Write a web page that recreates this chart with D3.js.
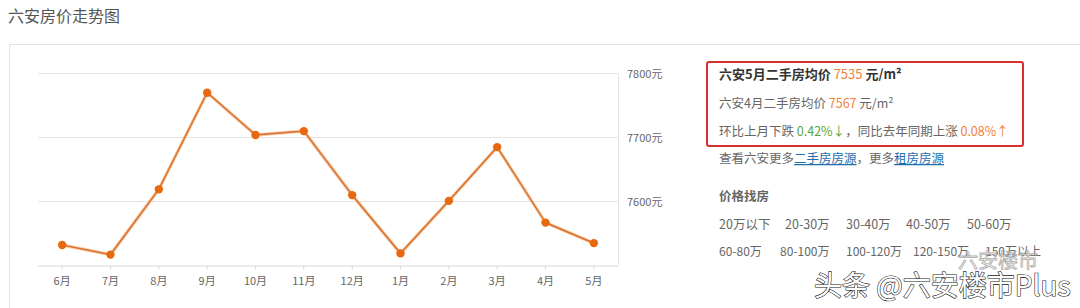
<!DOCTYPE html>
<html>
<head>
<meta charset="utf-8">
<script src="https://cdn.jsdelivr.net/npm/d3@7"></script>
<style>
  body { margin: 0; background: #fff; }
  svg { display: block; font-family: "Noto Sans CJK SC", "Noto Sans", sans-serif; }
</style>
</head>
<body>
<script>
// 六安二手房均价 (元/m²)
var months = ["6月", "7月", "8月", "9月", "10月", "11月", "12月", "1月", "2月", "3月", "4月", "5月"];
var prices = [7532, 7517, 7619, 7770, 7704, 7710, 7610, 7519, 7601, 7685, 7567, 7535];
var yTicks = [7600, 7700, 7800];
var priceRow1 = ["20万以下", "20-30万", "30-40万", "40-50万", "50-60万"];
var priceRow2 = ["60-80万", "80-100万", "100-120万", "120-150万", "150万以上"];

var svg = d3.select("body").append("svg")
    .attr("width", 1080)
    .attr("height", 308);

// page title
svg.append("text")
    .attr("x", 8).attr("y", 22)
    .attr("font-size", 16)
    .attr("fill", "#555")
    .text("六安房价走势图");

// panel border
svg.append("path")
    .attr("d", "M9.5,308 V44.5 H1080")
    .attr("fill", "none")
    .attr("stroke", "#e2e2e2");

var x = d3.scaleBand().domain(months).range([38, 618]);
var y = d3.scaleLinear().domain([7500, 7800]).range([265.5, 73.5]);

// grid lines
svg.append("g").selectAll("line")
    .data(yTicks)
    .enter().append("line")
    .attr("x1", 38).attr("x2", 618)
    .attr("y1", function (d) { return y(d); })
    .attr("y2", function (d) { return y(d); })
    .attr("stroke", "#e3e3e3");

// right edge of plot
svg.append("line")
    .attr("x1", 618.5).attr("x2", 618.5)
    .attr("y1", y(7800)).attr("y2", y(7500))
    .attr("stroke", "#e3e3e3");

// y labels
svg.append("g").selectAll("text")
    .data(yTicks)
    .enter().append("text")
    .attr("x", 627)
    .attr("y", function (d) { return y(d) + 4; })
    .attr("font-size", 11)
    .attr("fill", "#666")
    .text(function (d) { return d + "元"; });

// x axis
var xAxis = svg.append("g")
    .attr("transform", "translate(0," + y(7500) + ")")
    .call(d3.axisBottom(x).tickSize(4).tickPadding(8));
xAxis.select(".domain").attr("stroke", "#d8d8d8").attr("d", "M38,0.5H618");
xAxis.selectAll(".tick line").attr("stroke", "#d8d8d8");
xAxis.selectAll(".tick text")
    .attr("font-size", 11)
    .attr("fill", "#666")
    .attr("font-family", "\"Noto Sans CJK SC\", sans-serif");

// price line
var cx = function (d, i) { return x(months[i]) + x.bandwidth() / 2; };
var line = d3.line()
    .x(cx)
    .y(function (d) { return y(d); });

svg.append("path")
    .datum(prices)
    .attr("d", line)
    .attr("fill", "none")
    .attr("stroke", "#f8d3b6")
    .attr("stroke-width", 3.5)
    .attr("stroke-linejoin", "round");

svg.append("path")
    .datum(prices)
    .attr("d", line)
    .attr("fill", "none")
    .attr("stroke", "#dc7733")
    .attr("stroke-width", 1.7)
    .attr("stroke-linejoin", "round");

svg.append("g").selectAll("circle")
    .data(prices)
    .enter().append("circle")
    .attr("cx", cx)
    .attr("cy", function (d) { return y(d); })
    .attr("r", 4.2)
    .attr("fill", "#e8680f");

// info box
svg.append("rect")
    .attr("x", 707).attr("y", 62)
    .attr("width", 316).attr("height", 84)
    .attr("rx", 2)
    .attr("fill", "none")
    .attr("stroke", "#d8302d")
    .attr("stroke-width", 2);

function richText(xPos, yPos, size, parts) {
    var t = svg.append("text")
        .attr("x", xPos).attr("y", yPos)
        .attr("font-size", size);
    t.selectAll("tspan")
        .data(parts)
        .enter().append("tspan")
        .attr("fill", function (d) { return d.color; })
        .attr("font-weight", function (d) { return d.bold ? "bold" : "normal"; })
        .attr("text-decoration", function (d) { return d.link ? "underline" : null; })
        .attr("xml:space", "preserve")
        .text(function (d) { return d.text; });
    return t;
}

var orange = "#f0813a", green = "#5aa63a", dark = "#333", gray = "#666", blue = "#1f6fae";

richText(719, 79, 13, [
    { text: "六安5月二手房均价 ", color: dark, bold: true },
    { text: String(prices[11]), color: orange },
    { text: " 元/m²", color: dark, bold: true }
]);
richText(719, 108, 12.5, [
    { text: "六安4月二手房均价 ", color: gray },
    { text: String(prices[10]), color: orange },
    { text: " 元/m²", color: gray }
]);
richText(719, 136, 12.5, [
    { text: "环比上月下跌 ", color: gray },
    { text: "0.42%↓", color: green },
    { text: "，同比去年同期上涨 ", color: gray },
    { text: "0.08%↑", color: orange }
]);
richText(719, 163, 12.5, [
    { text: "查看六安更多", color: gray },
    { text: "二手房房源", color: blue, link: true },
    { text: "，更多", color: gray },
    { text: "租房房源", color: blue, link: true }
]);

svg.append("text")
    .attr("x", 719).attr("y", 201)
    .attr("font-size", 12.5)
    .attr("font-weight", "bold")
    .attr("fill", gray)
    .text("价格找房");

var row1X = [719, 785, 846, 906, 967];
var row2X = [719, 780, 846, 913, 985];
svg.append("g").selectAll("text")
    .data(priceRow1)
    .enter().append("text")
    .attr("x", function (d, i) { return row1X[i]; })
    .attr("y", 229)
    .attr("font-size", 12.5)
    .attr("fill", gray)
    .text(function (d) { return d; });
svg.append("g").selectAll("text")
    .data(priceRow2)
    .enter().append("text")
    .attr("x", function (d, i) { return row2X[i]; })
    .attr("y", 256)
    .attr("font-size", 12)
    .attr("fill", gray)
    .text(function (d) { return d; });

// watermark
svg.append("text")
    .attr("x", 958).attr("y", 268)
    .attr("font-size", 20)
    .attr("fill", "#fff")
    .attr("stroke", "#999")
    .attr("stroke-width", 0.8)
    .attr("opacity", 0.8)
    .text("六安楼市");
svg.append("text")
    .attr("x", 814).attr("y", 296)
    .attr("font-size", 28)
    .attr("fill", "#fff")
    .attr("stroke", "#222")
    .attr("stroke-width", 1.2)
    .attr("paint-order", "stroke")
    .text("头条 @六安楼市Plus");
</script>
</body>
</html>
